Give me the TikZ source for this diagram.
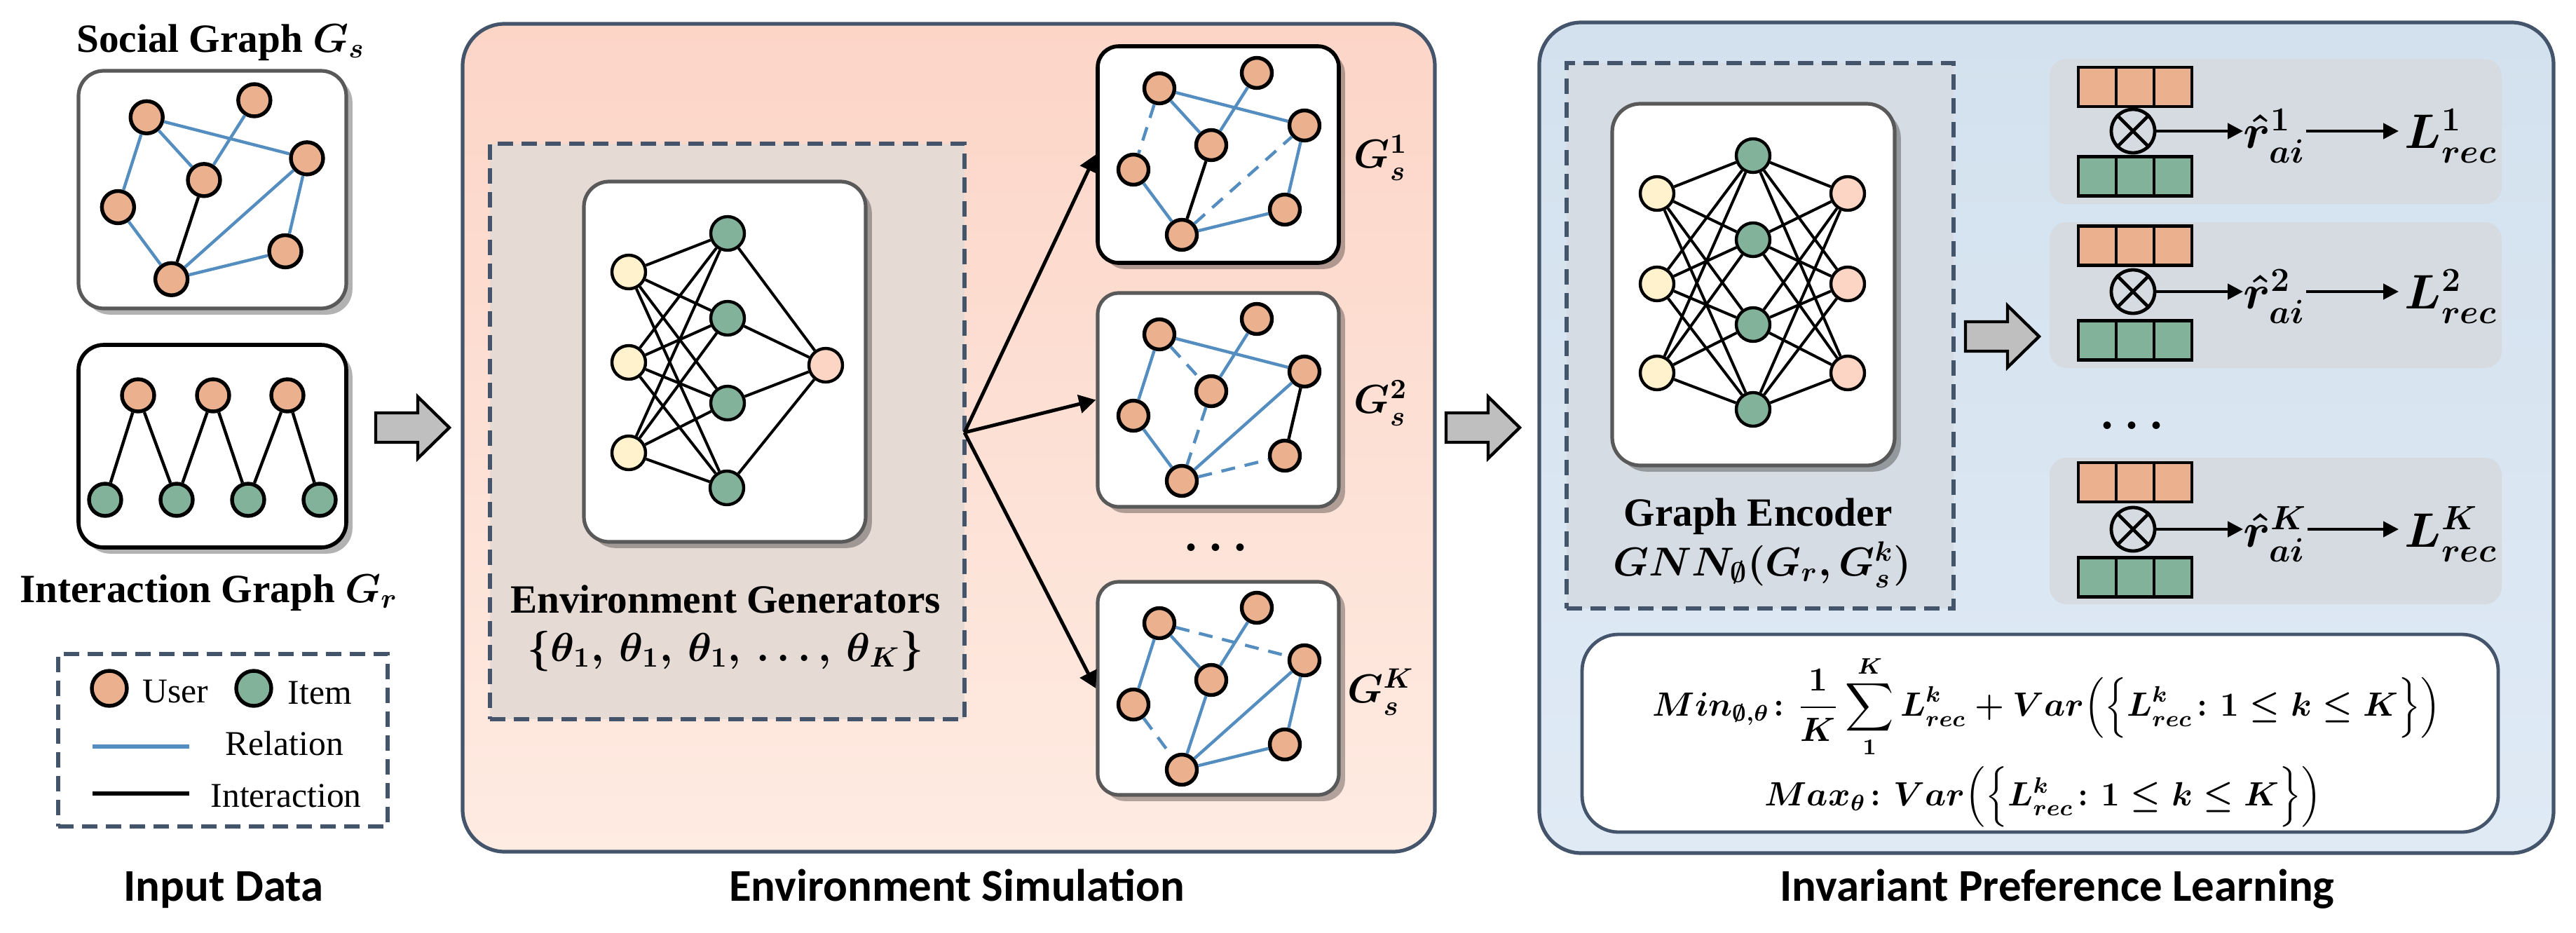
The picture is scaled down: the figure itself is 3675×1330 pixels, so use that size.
\documentclass[tikz,border=0pt]{standalone}
\usepackage{amsmath}
\usepackage{bm}
\usepackage{fontspec}
\setmainfont{Liberation Serif}
\newfontfamily\labfont{Carlito}
\usetikzlibrary{arrows.meta,shadows}
\definecolor{userc}{RGB}{235,177,142}
\definecolor{itemc}{RGB}{131,178,155}
\definecolor{relc}{RGB}{84,141,192}
\definecolor{nninc}{RGB}{255,242,204}
\definecolor{noutc}{RGB}{252,213,196}
\definecolor{panelc}{RGB}{68,84,106}
\definecolor{boxgray}{RGB}{89,89,89}
\definecolor{envtop}{RGB}{252,213,199}
\definecolor{envbot}{RGB}{254,235,226}
\definecolor{envdash}{RGB}{230,218,213}
\definecolor{ipltop}{RGB}{211,225,238}
\definecolor{iplbot}{RGB}{223,234,245}
\definecolor{ipldash}{RGB}{213,220,227}
\definecolor{rowc}{RGB}{213,219,225}
\definecolor{arrc}{RGB}{191,191,191}
\newcommand{\gnodes}[5]{%
  \foreach \nm/\a/\b in {1/88/60,2/227/38,3/295/113,4/162/141,5/51/176,6/267/233,7/120/269}{%
    \node[usr,minimum size=#5] (#1\nm) at ({#2+\a*#4},{#3+\b*#4}) {};
  }%
}
\newcommand{\blockarrow}[2]{%
  \draw[blockar] ({#1-52},{#2-21}) -- ({#1+8},{#2-21}) -- ({#1+8},{#2-44}) -- ({#1+53},{#2}) -- ({#1+8},{#2+44}) -- ({#1+8},{#2+21}) -- ({#1-52},{#2+21}) -- cycle;%
}
\newcommand{\rowitems}[6]{%
  \node[ocell] (#1o1) at (2992,#2) {};
  \node[ocell] (#1o2) at (3046,#2) {};
  \node[ocell] (#1o3) at (3100,#2) {};
  \node[gcell] (#1g1) at (2992,#4) {};
  \node[gcell] (#1g2) at (3046,#4) {};
  \node[gcell] (#1g3) at (3100,#4) {};
  \node[otm] (#1c) at (3043,#3) {};
  \draw[line width=1.2pt] (#1c.north east) -- (#1c.south west) (#1c.north west) -- (#1c.south east);
  \node[rmth,anchor=west] (#1r) at (3200,#5) {$\hat{r}^{#6}_{ai}$};
  \node[rmth,anchor=west] (#1L) at (3430,#5) {$L^{#6}_{rec}$};
  \draw[rowar] (#1c.east) -- (#1c.east -| #1r.west);
  \draw[rowar] (#1r.east |- #1c.east) -- ([xshift=-2pt]#1L.west |- #1c.east);
}
\begin{document}
\begin{tikzpicture}[x=0.25pt,y=-0.25pt,
  usr/.style={circle,draw=black,line width=1.35pt,fill=userc,inner sep=0pt,minimum size=11.5pt},
  itm/.style={usr,fill=itemc},
  nin/.style={circle,draw=black,line width=1.1pt,fill=nninc,inner sep=0pt,minimum size=12pt},
  nhid/.style={nin,fill=itemc},
  nout/.style={nin,fill=noutc},
  rel/.style={draw=relc,line width=1.1pt},
  reld/.style={rel,dash pattern=on 5pt off 3.5pt},
  intr/.style={draw=black,line width=1.1pt},
  nnl/.style={draw=black,line width=1pt},
  wbox/.style={draw=boxgray,line width=1.3pt,fill=white,inner sep=0pt,drop shadow={shadow xshift=2.2pt,shadow yshift=-2.2pt,opacity=0.3,fill=black}},
  panel/.style={draw=panelc,line width=1.3pt,inner sep=0pt,rounded corners=15pt},
  dbox/.style={draw=panelc,line width=1.3pt,dash pattern=on 5.5pt off 3pt,inner sep=0pt},
  lbl/.style={inner sep=0pt,font=\labfont\bfseries\fontsize{16.2}{18}\selectfont},
  ttl/.style={inner sep=0pt,font=\bfseries\boldmath\fontsize{14.3}{16}\selectfont},
  lt/.style={inner sep=0pt,font=\fontsize{12.4}{14}\selectfont},
  mth/.style={inner sep=0pt,font=\boldmath\fontsize{14}{16}\selectfont},
  rmth/.style={inner sep=0pt,font=\boldmath\fontsize{17}{19}\selectfont},
  fml/.style={inner sep=0pt,font=\boldmath\fontsize{12}{14}\selectfont},
  fanar/.style={draw=black,line width=1.25pt,-{Triangle[length=6pt,width=6.5pt]}},
  rowar/.style={draw=black,line width=1.1pt,-{Triangle[length=5.5pt,width=5.5pt]}},
  blockar/.style={draw=black,line width=1.1pt,fill=arrc,line join=miter},
  cell/.style={draw=black,line width=1.2pt,minimum width=13.5pt,minimum height=14pt,inner sep=0pt},
  ocell/.style={cell,fill=userc},
  gcell/.style={cell,fill=itemc},
  otm/.style={circle,draw=black,line width=1.2pt,fill=rowc,minimum size=15.5pt,inner sep=0pt}]
\useasboundingbox (0,0) rectangle (3675,1330);
\fill[white] (0,0) rectangle (3675,1330);

% ---------------- Input data ----------------
\node[ttl,anchor=base] (tsoc) at (315,74) {Social Graph $G_s$};
\node[wbox,rounded corners=9pt,minimum width=95.5pt,minimum height=84.75pt] (sbox) at (303,270.5) {};
\gnodes{s}{112}{101}{1.105}{11.5pt}
\draw[rel] (s1)--(s5) (s1)--(s4) (s1)--(s3) (s2)--(s4) (s7)--(s3) (s3)--(s6) (s7)--(s6) (s5)--(s7);
\draw[intr] (s4)--(s7);

\node[wbox,draw=black,line width=1.4pt,rounded corners=9pt,minimum width=95.5pt,minimum height=72.25pt] (ibox) at (303,636.5) {};
\node[usr] (u1) at (197,564) {};
\node[usr] (u2) at (304,564) {};
\node[usr] (u3) at (410,564) {};
\node[itm] (i1) at (150,713) {};
\node[itm] (i2) at (252,713) {};
\node[itm] (i3) at (354,713) {};
\node[itm] (i4) at (456,713) {};
\draw[intr] (u1)--(i1) (u1)--(i2) (u2)--(i2) (u2)--(i3) (u3)--(i3) (u3)--(i4);
\node[ttl,anchor=base] (tint) at (298,859) {Interaction Graph $G_r$};

\node[dbox,minimum width=117.5pt,minimum height=61.5pt] (leg) at (318,1056) {};
\node[usr,minimum size=12.5pt] (lu) at (156,982) {};
\node[lt,anchor=base west] (lut) at (203,1002) {User};
\node[itm,minimum size=12.5pt] (li) at (362,982) {};
\node[lt,anchor=base west] (lit) at (410,1004) {Item};
\coordinate (lr1) at (132,1065);
\coordinate (lr2) at (270,1065);
\draw[rel,line width=1.3pt] (lr1)--(lr2);
\node[lt,anchor=base west] (lrt) at (321,1077) {Relation};
\coordinate (lk1) at (132,1132);
\coordinate (lk2) at (270,1132);
\draw[intr,line width=1.3pt] (lk1)--(lk2);
\node[lt,anchor=base west] (lkt) at (300,1151) {Interaction};
\node[lbl,anchor=base] (tin) at (319,1285) {Input Data};

\blockarrow{588}{610}

% ---------------- Environment simulation ----------------
\node[panel,top color=envtop,bottom color=envbot,minimum width=346.75pt,minimum height=295.25pt] (envp) at (1353.5,624.5) {};
\node[dbox,fill=envdash,minimum width=169.25pt,minimum height=205.25pt] (envd) at (1037.5,615.5) {};
\node[wbox,rounded corners=9pt,minimum width=100.5pt,minimum height=128.5pt] (envnn) at (1034,516) {};
\node[nin] (ei1) at (897,388) {};
\node[nin] (ei2) at (897,517) {};
\node[nin] (ei3) at (897,646) {};
\node[nhid] (eh1) at (1038,333) {};
\node[nhid] (eh2) at (1038,454) {};
\node[nhid] (eh3) at (1038,575) {};
\node[nhid] (eh4) at (1037,696) {};
\node[nout] (eo) at (1178,521) {};
\foreach \i in {1,2,3}{\foreach \j in {1,2,3,4}{\draw[nnl] (ei\i)--(eh\j);}}
\foreach \j in {1,2,3,4}{\draw[nnl] (eh\j)--(eo);}
\node[ttl,anchor=base] (teg) at (1035,874) {Environment Generators};
\node[ttl,anchor=base] (tth) at (1035,943) {$\{\theta_1,\,\theta_1,\,\theta_1,\,\ldots,\,\theta_K\}$};

\node[wbox,draw=black,line width=1.4pt,rounded corners=7.5pt,minimum width=86pt,minimum height=77.25pt] (g1) at (1738,220.5) {};
\gnodes{a}{1566}{66}{1}{10.75pt}
\draw[rel] (a1)--(a4) (a1)--(a3) (a2)--(a4) (a3)--(a6) (a7)--(a6) (a5)--(a7);
\draw[reld] (a1)--(a5) (a7)--(a3);
\draw[intr] (a4)--(a7);

\node[wbox,rounded corners=7.5pt,minimum width=86pt,minimum height=76.25pt] (g2) at (1738,570.5) {};
\gnodes{b}{1566}{417}{1}{10.75pt}
\draw[rel] (b1)--(b5) (b1)--(b3) (b2)--(b4) (b7)--(b3) (b5)--(b7);
\draw[reld] (b1)--(b4) (b4)--(b7) (b7)--(b6);
\draw[intr] (b3)--(b6);

\node[mth,font=\boldmath\fontsize{16}{16}\selectfont] (gdots) at (1741,782) {$\cdots$};

\node[wbox,rounded corners=7.5pt,minimum width=86pt,minimum height=76pt] (gk) at (1738,982) {};
\gnodes{c}{1566}{829}{1}{10.75pt}
\draw[rel] (c1)--(c5) (c1)--(c4) (c2)--(c4) (c4)--(c7) (c7)--(c3) (c3)--(c6) (c7)--(c6);
\draw[reld] (c1)--(c3) (c5)--(c7);

\node[mth] (lg1) at (1970,225) {$G_s^1$};
\node[mth] (lg2) at (1970,575) {$G_s^2$};
\node[mth] (lgk) at (1970,987) {$G_s^K$};

\coordinate (fan) at (1376,617);
\draw[fanar] (fan) -- (g1.west);
\draw[fanar] (fan) -- (g2.west);
\draw[fanar] (fan) -- (gk.west);
\node[lbl,anchor=base] (tenv) at (1365,1285) {Environment Simulation};

\blockarrow{2115}{610}

% ---------------- Invariant preference learning ----------------
\node[panel,top color=ipltop,bottom color=iplbot,minimum width=361.75pt,minimum height=296.25pt] (iplp) at (2919.5,624.5) {};
\node[dbox,fill=ipldash,minimum width=138pt,minimum height=194.5pt] (ipld) at (2511,479) {};
\node[wbox,rounded corners=10pt,minimum width=100.75pt,minimum height=129pt] (iplnn) at (2501.5,406) {};
\node[nin] (ri1) at (2364,276) {};
\node[nin] (ri2) at (2364,405) {};
\node[nin] (ri3) at (2364,532) {};
\node[nhid] (rh1) at (2501,222) {};
\node[nhid] (rh2) at (2501,342) {};
\node[nhid] (rh3) at (2501,463) {};
\node[nhid] (rh4) at (2501,584) {};
\node[nout] (ro1) at (2636,276) {};
\node[nout] (ro2) at (2636,405) {};
\node[nout] (ro3) at (2636,532) {};
\foreach \i in {1,2,3}{\foreach \j in {1,2,3,4}{\draw[nnl] (ri\i)--(rh\j); \draw[nnl] (rh\j)--(ro\i);}}
\node[ttl,anchor=base] (tge) at (2508,750) {Graph Encoder};
\node[ttl,anchor=base] (tgnn) at (2514,821) {$GNN_{\emptyset}(G_r,G_s^k)$};

\blockarrow{2856}{480}

\node[draw=none,fill=rowc,rounded corners=6pt,minimum width=161.25pt,minimum height=51.75pt,inner sep=0pt] (row1) at (3246.5,187.5) {};
\node[draw=none,fill=rowc,rounded corners=6pt,minimum width=161.25pt,minimum height=52pt,inner sep=0pt] (row2) at (3246.5,421) {};
\node[draw=none,fill=rowc,rounded corners=6pt,minimum width=161.25pt,minimum height=52.25pt,inner sep=0pt] (rowk) at (3246.5,757.5) {};
\rowitems{p}{124}{187}{251.5}{194}{1}
\rowitems{q}{350.5}{416}{485.5}{423}{2}
\rowitems{w}{688}{755}{823.5}{762}{K}
\node[mth,font=\boldmath\fontsize{16}{16}\selectfont] (rdots) at (3048,608) {$\cdots$};

\node[draw=panelc,line width=1.2pt,fill=white,rounded corners=13pt,minimum width=326.75pt,minimum height=70.5pt,inner sep=0pt] (fbox) at (2910.5,1046) {};
\node[fml] (f1) at (2920,1008) {$\displaystyle Min_{\emptyset,\theta}\colon \frac{1}{K}\sum_{1}^{K} L^{k}_{rec} + Var\Big(\Big\{L^{k}_{rec}\colon 1\le k\le K\Big\}\Big)$};
\node[fml] (f2) at (2915,1137) {$Max_{\theta}\colon Var\Big(\Big\{L^{k}_{rec}\colon 1\le k\le K\Big\}\Big)$};
\node[lbl,anchor=base] (tipl) at (2935,1285) {Invariant Preference Learning};
\end{tikzpicture}
\end{document}
